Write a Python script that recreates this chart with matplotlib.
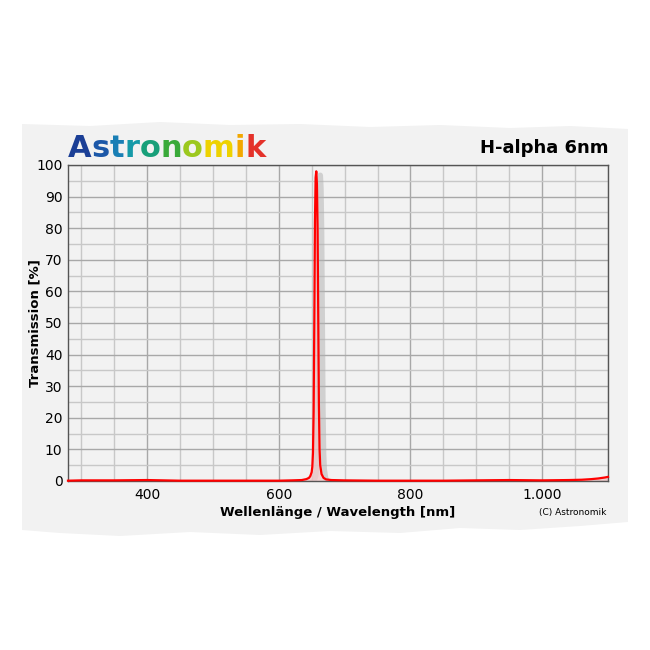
import numpy as np
import matplotlib.pyplot as plt
from matplotlib.patches import Polygon
from matplotlib.ticker import MultipleLocator, FixedLocator
import matplotlib.transforms as mtransforms

# transmission curve (wavelength in nm, transmission in %)
wavelength = [280, 300, 350, 400, 450, 500, 550, 600, 620, 635, 642, 646, 648,
              650, 651, 652, 653, 654, 655, 656, 657, 658, 659, 660, 661, 662,
              663, 665, 668, 672, 680, 700, 750, 800, 850, 900, 950, 1000,
              1040, 1060, 1075, 1085, 1095, 1100]
transmission = [0.1, 0.2, 0.2, 0.3, 0.1, 0.1, 0.1, 0.1, 0.2, 0.3, 0.6, 1.0, 1.6,
                2.8, 4.5, 9.0, 22, 50, 82, 96, 98, 94, 80, 52, 24, 10,
                5.0, 2.2, 1.0, 0.5, 0.3, 0.2, 0.1, 0.1, 0.1, 0.2, 0.3, 0.2,
                0.3, 0.4, 0.6, 0.8, 1.1, 1.3]

xticks = [400, 600, 800, 1000]
xticklabels = ["400", "600", "800", "1.000"]
yticks = list(range(0, 101, 10))

logo_text = "Astronomik"
logo_colors = ["#1b3f96", "#1c58a8", "#1a7fb5", "#169aa8", "#18a07a",
               "#3aaa3a", "#9cc81e", "#eed200", "#f2a800", "#e4322a"]

PAPER = "#f2f2f2"

fig = plt.figure(figsize=(6.5, 6.5), dpi=100)
fig.patch.set_facecolor("white")

# torn paper background
top = [(22, 124), (90, 126), (160, 122), (230, 125), (300, 124), (370, 127),
       (440, 125), (510, 128), (570, 126), (628, 129)]
bottom = [(628, 522), (580, 526), (520, 530), (460, 528), (400, 533),
          (330, 531), (260, 535), (190, 532), (120, 536), (60, 533), (22, 530)]
pts = [(x / 650, 1 - y / 650) for x, y in top + bottom]
fig.patches.append(Polygon(pts, closed=True, transform=fig.transFigure,
                           facecolor=PAPER, edgecolor="none", zorder=0))

ax = fig.add_axes([68 / 650, 1 - 481 / 650, 540 / 650, 316 / 650])
ax.set_zorder(2)
ax.set_facecolor(PAPER)
ax.set_xlim(280, 1100)
ax.set_ylim(0, 100)

ax.xaxis.set_major_locator(FixedLocator(xticks))
ax.set_xticklabels(xticklabels)
ax.xaxis.set_minor_locator(MultipleLocator(50))
ax.yaxis.set_major_locator(FixedLocator(yticks))
ax.yaxis.set_minor_locator(MultipleLocator(5))
ax.grid(which="major", color="#a8a8a8", linewidth=1.0)
ax.grid(which="minor", color="#c8c8c8", linewidth=1.0)
ax.set_axisbelow(True)
ax.tick_params(which="both", length=0, labelsize=10, colors="black", pad=4)
ax.tick_params(axis="x", pad=5)
for s in ax.spines.values():
    s.set_color("#555555")
    s.set_linewidth(1.0)

# drop shadow of the curve
shadow = mtransforms.offset_copy(ax.transData, fig=fig, x=4, y=-4, units="dots")
ax.plot(wavelength, transmission, color="#b0b0b0", linewidth=4, alpha=0.5,
        transform=shadow, solid_joinstyle="round", zorder=2)
ax.fill_between(wavelength, transmission, 0, color="#f3c8c8", alpha=0.7, zorder=2)
ax.plot(wavelength, transmission, color="#ff0000", linewidth=1.6, zorder=3,
        clip_on=False)

ax.set_xlabel("Wellenlänge / Wavelength [nm]", fontsize=9.5, fontweight="bold",
              labelpad=3)
ax.set_ylabel("Transmission [%]", fontsize=9.5, fontweight="bold")
ax.yaxis.set_label_coords(-27 / 540, 0.5)

fig.text(608 / 650, 1 - 148 / 650, "H-alpha 6nm", ha="right", va="center",
         fontsize=13, fontweight="bold", zorder=3)
fig.text(606 / 650, 1 - 513 / 650, "(C) Astronomik", ha="right", va="center",
         fontsize=6.5, zorder=3)

# rainbow logo, letter by letter
fig.canvas.draw()
renderer = fig.canvas.get_renderer()
x = 68
for ch, col in zip(logo_text, logo_colors):
    t = fig.text(x / 650, 1 - 157 / 650, ch, fontsize=22, fontweight="heavy",
                 color=col, ha="left", va="baseline", zorder=3)
    w = t.get_window_extent(renderer).width
    x += w

fig.savefig("out.png", dpi=100, facecolor="white")
